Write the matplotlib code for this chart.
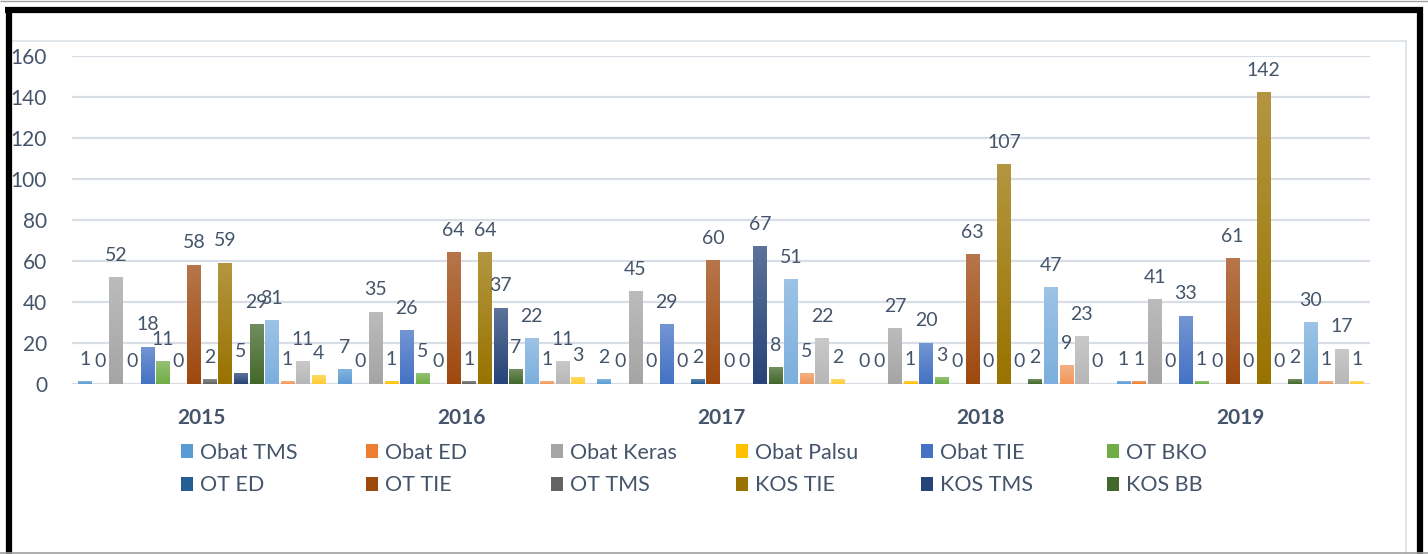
import numpy as np
import matplotlib
matplotlib.use("Agg")
import matplotlib.pyplot as plt
from matplotlib.patches import Patch
from matplotlib.lines import Line2D
from matplotlib.colors import LinearSegmentedColormap, to_rgb

years = ["2015", "2016", "2017", "2018", "2019"]

series_names = [
    "Obat TMS", "Obat ED", "Obat Keras", "Obat Palsu", "Obat TIE", "OT BKO",
    "OT ED", "OT TIE", "OT TMS", "KOS TIE", "KOS TMS", "KOS BB",
    "S13", "S14", "S15", "S16",
]

# one list per year, in series order
v2015 = [1, 0, 52, 0, 18, 11, 0, 58, 2, 59, 5, 29, 31, 1, 11, 4]
v2016 = [7, 0, 35, 1, 26, 5, 0, 64, 1, 64, 37, 7, 22, 1, 11, 3]
v2017 = [2, 0, 45, 0, 29, 0, 2, 60, 0, 0, 67, 8, 51, 5, 22, 2]
v2018 = [0, 0, 27, 1, 20, 3, 0, 63, 0, 107, 0, 2, 47, 9, 23, 0]
v2019 = [1, 1, 41, 0, 33, 1, 0, 61, 0, 142, 0, 2, 30, 1, 17, 1]

colors = [
    "#5B9BD5", "#ED7D31", "#A5A5A5", "#FFC000", "#4472C4", "#70AD47",
    "#255E91", "#9E480E", "#636363", "#997300", "#264478", "#43682B",
    "#7CAFDD", "#F1975A", "#B7B7B7", "#FFCD33",
]

TXT = "#44546A"
GRID = "#D9DEE6"

data = np.array([v2015, v2016, v2017, v2018, v2019])  # shape (years, series)
n_series = data.shape[1]

W, H = 1428, 554
fig = plt.figure(figsize=(W / 100, H / 100), dpi=100)
plt.rcParams["font.family"] = ["Lato", "DejaVu Sans"]

ax = fig.add_axes([72 / W, 1 - 384 / H, (1370 - 72) / W, (384 - 56) / H])

x = np.arange(len(years))
slot = 0.06
bw = 0.052


def lighten(c, f):
    r, g, b = to_rgb(c)
    return (r + (1 - r) * f, g + (1 - g) * f, b + (1 - b) * f)


grad = np.linspace(0, 1, 64).reshape(-1, 1)

for j in range(n_series):
    offs = x + (j - (n_series - 1) / 2) * slot
    bars = ax.bar(offs, data[:, j], width=bw, color=colors[j], zorder=2)
    cmap = LinearSegmentedColormap.from_list("g%d" % j, [colors[j], lighten(colors[j], 0.25)])
    for p in bars:
        h = p.get_height()
        if h <= 0:
            continue
        x0 = p.get_x()
        ax.imshow(grad, extent=(x0, x0 + p.get_width(), 0, h), origin="lower",
                  aspect="auto", cmap=cmap, zorder=2.5)
    ax.bar_label(bars, labels=[str(v) for v in data[:, j]], padding=10,
                 color=TXT, fontsize=14, zorder=4)

ax.set_xlim(-0.5, len(years) - 0.5)
ax.set_ylim(0, 160)
ax.set_yticks(np.arange(0, 161, 20))
ax.set_xticks(x)
ax.set_xticklabels(years, fontweight="bold", fontsize=15, color=TXT)
ax.tick_params(axis="x", length=0, pad=17)
ax.tick_params(axis="y", length=0, pad=18, labelsize=15, labelcolor=TXT)
ax.grid(axis="y", color=GRID, linewidth=1.6, zorder=0)
ax.set_axisbelow(True)
for s in ax.spines.values():
    s.set_visible(False)

# legend: six columns, two rows, only first twelve series shown
col_x = [181, 366, 551, 736, 921, 1107]
for c in range(6):
    idx = [c, c + 6]
    handles = [Patch(facecolor=colors[i], edgecolor="none") for i in idx]
    fig.legend(handles, [series_names[i] for i in idx], loc="center left",
               bbox_to_anchor=(col_x[c] / W, 1 - 469 / H), frameon=False,
               fontsize=15.5, labelcolor=TXT, handlelength=0.58, handleheight=0.58,
               handletextpad=0.28, labelspacing=0.6, borderpad=0, borderaxespad=0)

# outer frame
def hline(y, x0, x1, color, lw):
    fig.add_artist(Line2D([x0 / W, x1 / W], [1 - y / H, 1 - y / H], color=color,
                          linewidth=lw, transform=fig.transFigure, solid_capstyle="butt"))


def vline(xp, y0, y1, color, lw):
    fig.add_artist(Line2D([xp / W, xp / W], [1 - y0 / H, 1 - y1 / H], color=color,
                          linewidth=lw, transform=fig.transFigure, solid_capstyle="butt"))


hline(40.5, 12, 1406, "#DCE1E8", 1.2)
vline(1406, 40, 554, "#DCE1E8", 1.2)
hline(10, 5, 1423, "black", 4.5)
vline(8.5, 7, 554, "black", 4.5)
vline(1420, 7, 554, "black", 4.5)
hline(553, 0, 1428, "#A0A0A0", 1.2)
hline(0.5, 0, 1428, "#A0A0A0", 1.0)

fig.savefig("out.png", dpi=100)
